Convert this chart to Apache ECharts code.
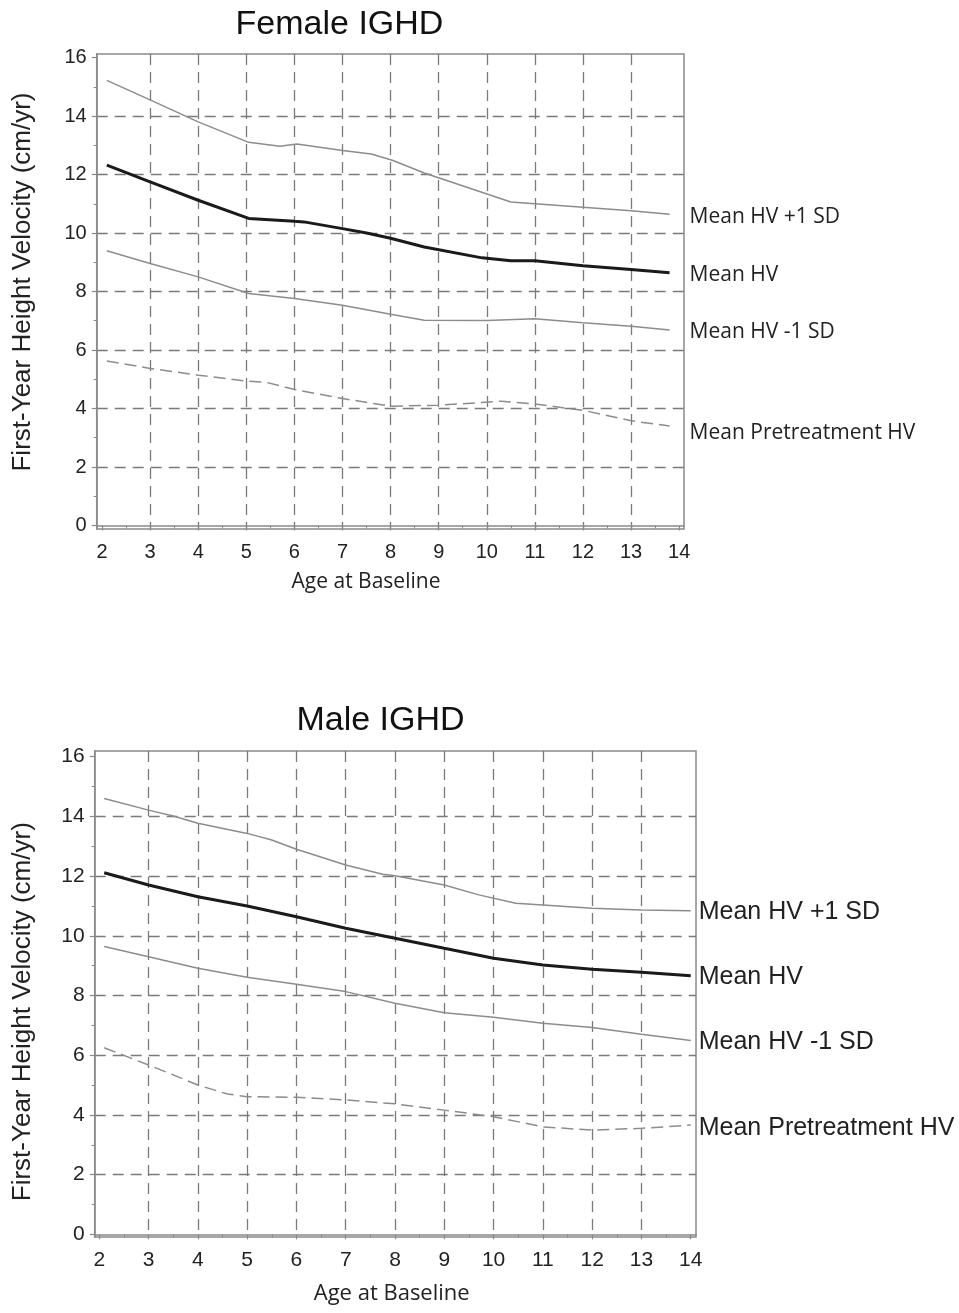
<!DOCTYPE html>
<html>
<head>
<meta charset="utf-8">
<title>First-Year Height Velocity - IGHD</title>
<script src="https://cdn.jsdelivr.net/npm/echarts@6/dist/echarts.min.js"></script>
<style>
    html, body { margin: 0; padding: 0; background: #fff; }
    #main { width: 959px; height: 1313px; }
</style>
</head>
<body>
<div id="main"></div>
<script>
// axis ticks
var xTicks = [2, 3, 4, 5, 6, 7, 8, 9, 10, 11, 12, 13, 14];
var xGridValues = [3, 4, 5, 6, 7, 8, 9, 10, 11, 12, 13];
var xMinorTicks = [2.5, 3.5, 4.5, 5.5, 6.5, 7.5, 8.5, 9.5, 10.5, 11.5, 12.5, 13.5];
var yTicks = [0, 2, 4, 6, 8, 10, 12, 14, 16];
var yGridValues = [2, 4, 6, 8, 10, 12, 14];
var yMinorTicks = [1, 3, 5, 7, 9, 11, 13, 15];

var seriesNames = ['Mean HV +1 SD', 'Mean HV', 'Mean HV -1 SD', 'Mean Pretreatment HV'];

// Female IGHD, [age, cm/yr]
var femalePlus1SD = [[2.1, 15.22], [3, 14.55], [4, 13.8], [5.05, 13.1], [5.7, 12.97], [6.05, 13.04], [7, 12.82], [7.6, 12.7], [8.05, 12.48], [8.7, 12.05], [10.5, 11.06], [11, 11.0], [12, 10.88], [13, 10.76], [13.8, 10.64]];
var femaleMean = [[2.1, 12.32], [3, 11.75], [4, 11.12], [5.05, 10.5], [6, 10.4], [6.2, 10.38], [7, 10.15], [7.5, 10.0], [8, 9.82], [8.7, 9.52], [9.9, 9.15], [10.5, 9.05], [11, 9.05], [11.2, 9.02], [12, 8.88], [13, 8.75], [13.8, 8.64]];
var femaleMinus1SD = [[2.1, 9.39], [3, 8.96], [4, 8.5], [5.05, 7.93], [6, 7.76], [7, 7.53], [8, 7.22], [8.7, 7.02], [10, 7.01], [11, 7.07], [12, 6.93], [13, 6.81], [13.8, 6.68]];
var femalePretreat = [[2.1, 5.62], [3, 5.37], [4, 5.14], [5, 4.94], [5.4, 4.9], [6, 4.65], [6.8, 4.4], [7, 4.34], [8, 4.08], [9, 4.11], [10.3, 4.25], [11, 4.15], [12, 3.94], [13, 3.58], [13.8, 3.4]];

// Male IGHD, [age, cm/yr]
var malePlus1SD = [[2.1, 14.6], [3, 14.21], [3.5, 14.01], [4, 13.77], [5, 13.43], [5.5, 13.21], [6, 12.9], [7, 12.37], [7.75, 12.06], [8, 12.01], [9, 11.7], [9.7, 11.37], [10.45, 11.09], [11, 11.03], [12, 10.92], [13, 10.86], [14, 10.84]];
var maleMean = [[2.1, 12.11], [3, 11.7], [4, 11.31], [5, 11.0], [6, 10.64], [7, 10.25], [8, 9.92], [9, 9.58], [10, 9.25], [11, 9.02], [12, 8.88], [13, 8.78], [14, 8.66]];
var maleMinus1SD = [[2.1, 9.64], [3, 9.3], [4, 8.91], [5, 8.61], [6, 8.38], [7, 8.13], [8, 7.74], [9, 7.42], [10, 7.27], [11, 7.07], [12, 6.93], [13, 6.7], [14, 6.49]];
var malePretreat = [[2.1, 6.25], [3, 5.67], [3.5, 5.34], [4, 5.0], [4.6, 4.7], [5, 4.61], [6, 4.59], [7, 4.5], [8, 4.37], [9, 4.16], [10, 3.94], [11, 3.6], [12, 3.49], [13, 3.55], [14, 3.66]];

var axisColor = '#8a8a8a';
var gridColor = '#7a7a7a';
var textColor = '#222';

// panel layout (px) and axis extents
var panels = [
    {
        grid: { left: 96.7, top: 54, width: 587.3, height: 475 },
        xMin: 1.89, xMax: 14.1, yMin: -0.12, yMax: 16.12,
        tickFont: 20, labelFont: 'Open Sans', labelSize: 21, labelDistance: 20,
        labelOffsets: [3, 2, 2, 7],
        data: [femalePlus1SD, femaleMean, femaleMinus1SD, femalePretreat]
    },
    {
        grid: { left: 94.7, top: 751, width: 601.3, height: 486 },
        xMin: 1.907, xMax: 14.107, yMin: -0.09, yMax: 16.19,
        tickFont: 21, labelFont: 'Liberation Sans', labelSize: 25, labelDistance: 8,
        labelOffsets: [1, 1, 2, 3],
        data: [malePlus1SD, maleMean, maleMinus1SD, malePretreat]
    }
];

var grids = [], xAxes = [], yAxes = [], series = [];

function makeAxis(dim, p, gi, kind) {
    var isX = dim === 'x';
    var ax = {
        type: 'value',
        gridIndex: gi,
        position: isX ? 'bottom' : 'left',
        min: isX ? p.xMin : p.yMin,
        max: isX ? p.xMax : p.yMax,
        axisLine: { show: false },
        axisTick: { show: false },
        axisLabel: { show: false },
        splitLine: { show: false },
        silent: true
    };
    if (kind === 'main') {
        var ticks = isX ? xTicks : yTicks;
        ax.axisLine = { show: true, lineStyle: { color: axisColor, width: 1.5 } };
        ax.axisTick = { show: true, customValues: ticks, length: 5, lineStyle: { color: axisColor, width: 1.2 } };
        ax.axisLabel = {
            show: true,
            customValues: ticks,
            margin: isX ? 13 : 10,
            color: textColor,
            fontFamily: 'Liberation Sans',
            fontSize: p.tickFont
        };
    } else if (kind === 'grid') {
        ax.axisTick = { show: false, customValues: isX ? xGridValues : yGridValues };
        ax.splitLine = { show: true, lineStyle: { color: gridColor, width: 1.3, type: [11, 7] } };
    } else {
        ax.axisTick = { show: true, customValues: isX ? xMinorTicks : yMinorTicks, length: 3, lineStyle: { color: axisColor, width: 1 } };
    }
    return ax;
}

panels.forEach(function (p, gi) {
    grids.push({
        left: p.grid.left,
        top: p.grid.top,
        width: p.grid.width,
        height: p.grid.height,
        show: true,
        borderColor: axisColor,
        borderWidth: 1.5,
        backgroundColor: '#fff',
        containLabel: false,
        outerBoundsMode: 'none'
    });
    var base = xAxes.length;
    ['main', 'grid', 'minor'].forEach(function (k) {
        xAxes.push(makeAxis('x', p, gi, k));
        yAxes.push(makeAxis('y', p, gi, k));
    });
    p.data.forEach(function (d, i) {
        var line = { color: '#8c8c8c', width: 1.5, type: 'solid' };
        if (i === 1) line = { color: '#1a1a1a', width: 3, type: 'solid' };
        if (i === 3) line = { color: '#8c8c8c', width: 1.5, type: [12, 6] };
        series.push({
            name: seriesNames[i],
            type: 'line',
            xAxisIndex: base,
            yAxisIndex: base,
            data: d,
            showSymbol: false,
            symbol: 'none',
            silent: true,
            z: 5,
            lineStyle: line,
            endLabel: {
                show: true,
                formatter: seriesNames[i],
                distance: p.labelDistance,
                offset: [0, p.labelOffsets[i]],
                color: textColor,
                fontFamily: p.labelFont,
                fontSize: p.labelSize
            }
        });
    });
});

var option = {
    animation: false,
    backgroundColor: '#fff',
    grid: grids,
    xAxis: xAxes,
    yAxis: yAxes,
    series: series,
    graphic: [
        { type: 'text', x: 339.5, y: 25, style: { text: 'Female IGHD', fill: '#111', font: '34px "Liberation Sans"', textAlign: 'center', textVerticalAlign: 'middle' } },
        { type: 'text', x: 380.5, y: 720.5, style: { text: 'Male IGHD', fill: '#111', font: '34px "Liberation Sans"', textAlign: 'center', textVerticalAlign: 'middle' } },
        { type: 'text', x: 23, y: 282, rotation: Math.PI / 2, style: { text: 'First-Year Height Velocity (cm/yr)', fill: textColor, font: '26px "Liberation Sans"', textAlign: 'center', textVerticalAlign: 'middle' } },
        { type: 'text', x: 23, y: 1011.7, rotation: Math.PI / 2, style: { text: 'First-Year Height Velocity (cm/yr)', fill: textColor, font: '26px "Liberation Sans"', textAlign: 'center', textVerticalAlign: 'middle' } },
        { type: 'text', x: 366, y: 582, style: { text: 'Age at Baseline', fill: textColor, font: '21px "Open Sans"', textAlign: 'center', textVerticalAlign: 'middle' } },
        { type: 'text', x: 391.7, y: 1294, style: { text: 'Age at Baseline', fill: textColor, font: '22px "Open Sans"', textAlign: 'center', textVerticalAlign: 'middle' } }
    ]
};

var myChart = echarts.init(document.getElementById('main'));
myChart.setOption(option);
</script>
</body>
</html>
